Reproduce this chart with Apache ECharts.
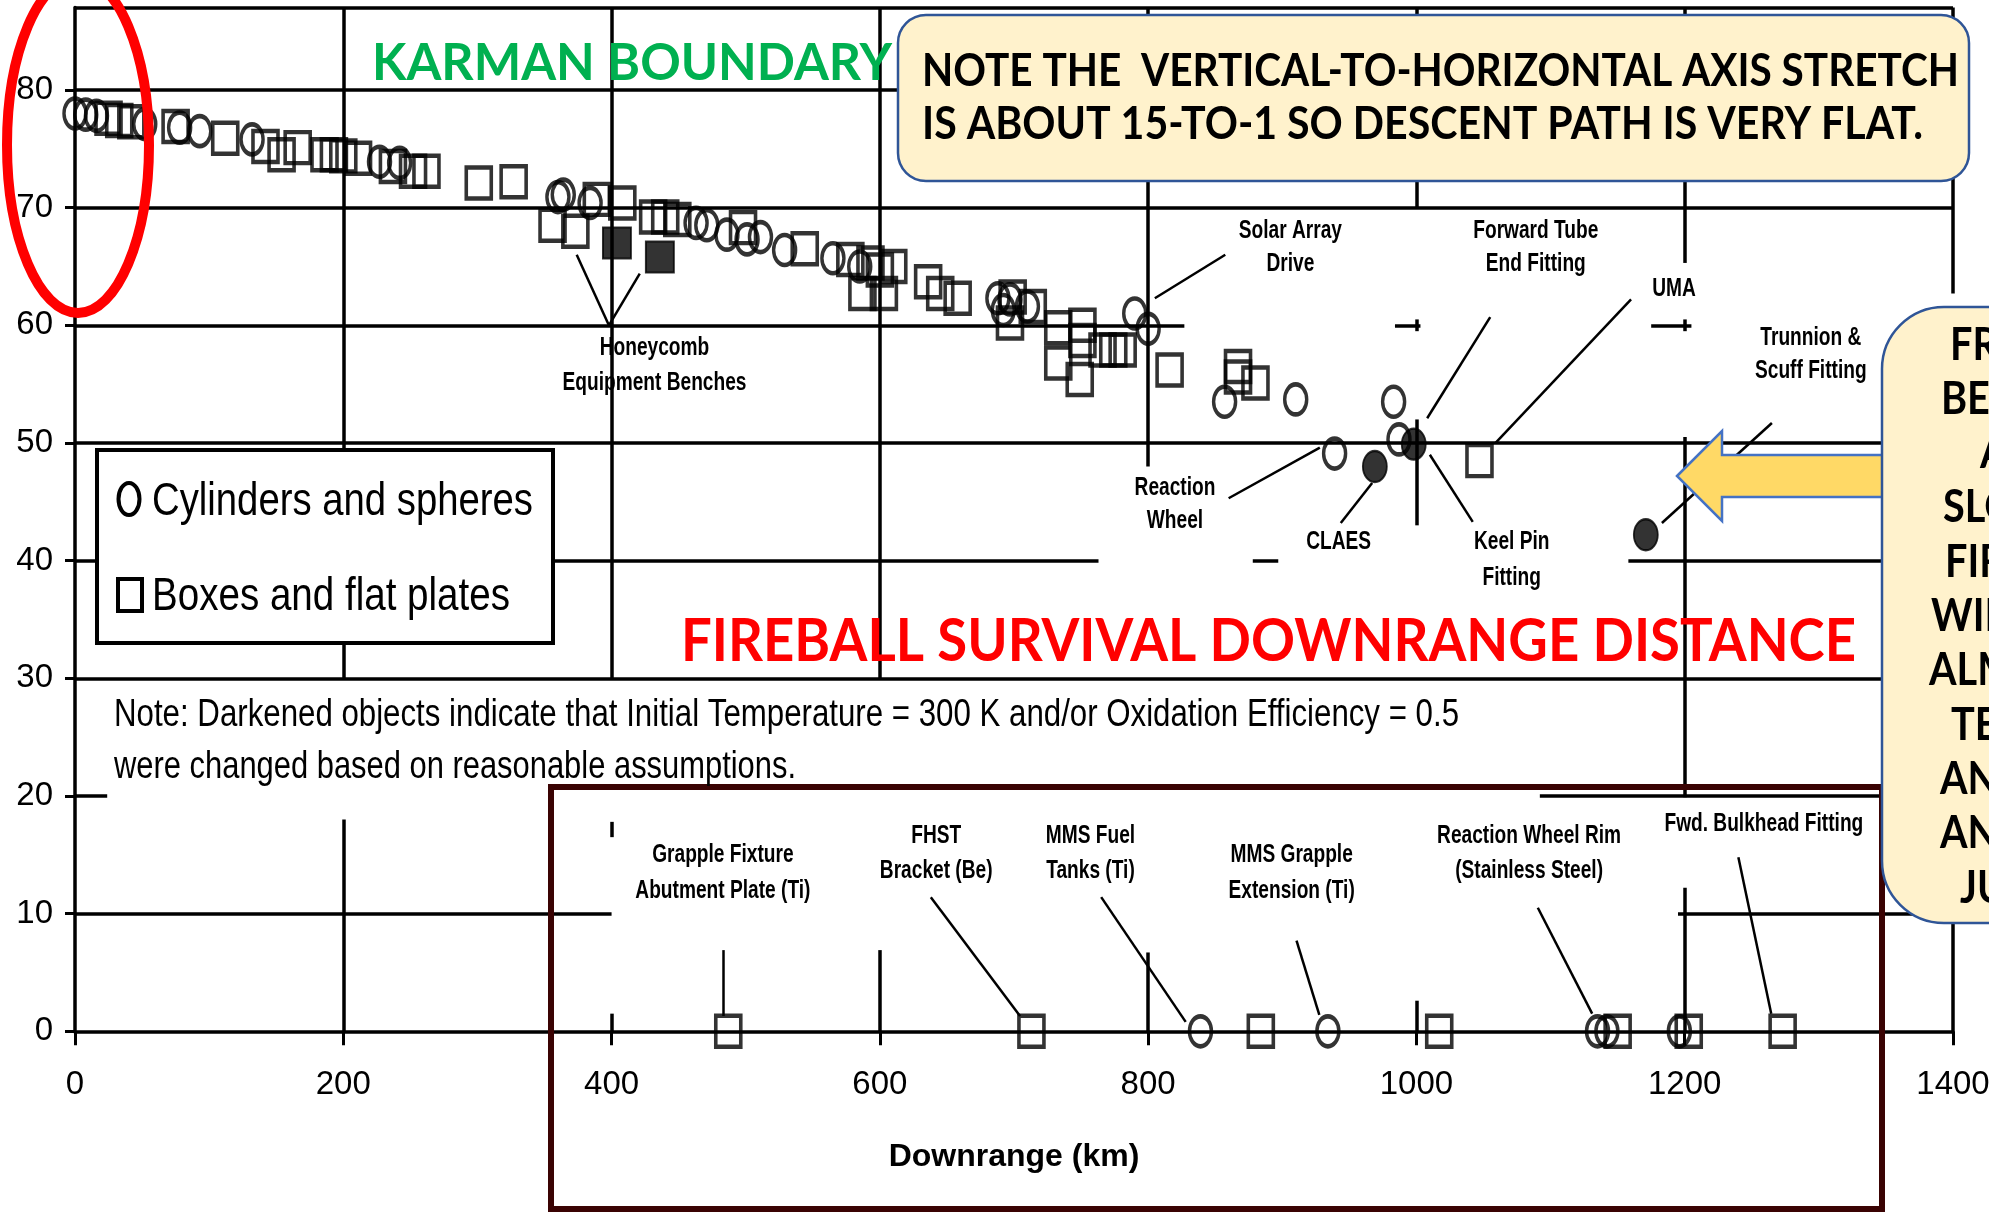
<!DOCTYPE html>
<html><head><meta charset="utf-8">
<script src="https://cdn.jsdelivr.net/npm/echarts@6/dist/echarts.min.js"></script>
<style>html,body{margin:0;padding:0;background:#fff}#c{width:1989px;height:1212px}</style>
</head><body><div id="c"></div>
<script>
// ---------------- DATA ----------------
const xTicks = [0, 200, 400, 600, 800, 1000, 1200, 1400];
const yTicks = [0, 10, 20, 30, 40, 50, 60, 70, 80];

// [downrange km, altitude km]
const cylinders = [[0,78.0],[8,77.9],[16,77.8],[52,77.1],[78,76.8],[93,76.5],[132,75.8],[227,73.9],[242,73.8],
  [360,70.9],[364,71.1],[384,70.4],[463,68.7],[471,68.5],[486,67.7],[501,67.3],[511,67.5],[529,66.4],[565,65.7],
  [585,65.0],[688,62.3],[692,61.3],[697,62.2],[710,61.6],[790,61.0],[800,59.7],[857,53.5],[910,53.7],[983,53.5],
  [987,50.3],[939,49.1],[839,0],[934,0],[1135,0],[1142,0],[1196,0]];
const boxes = [[25,77.6],[33,77.4],[42,77.3],[75,76.9],[112,75.9],[142,75.2],[154,74.5],[166,75.1],[186,74.5],
  [193,74.5],[200,74.4],[211,74.2],[237,73.5],[252,73.1],[262,73.1],[301,72.1],[327,72.2],[356,68.5],[373,68.0],
  [389,70.7],[408,70.4],[431,69.2],[440,69.2],[449,69.0],[498,68.3],[544,66.5],[578,65.6],[593,65.3],[600,64.7],
  [610,65.0],[587,62.7],[603,62.7],[636,63.7],[645,62.7],[658,62.3],[699,62.4],[714,61.6],[697,60.2],[733,59.8],
  [733,56.8],[751,60.0],[751,58.7],[749,55.4],[766,57.9],[774,57.9],[781,57.9],[816,56.2],[867,56.5],[867,55.6],
  [880,55.1],[1047,48.5],[487,0],[713,0],[884,0],[1017,0],[1150,0],[1203,0],[1273,0]];
const cylindersDark = [[969,48.0],[998,49.9],[1171,42.2]];
const boxesDark = [[404,67.0],[436,65.8]];

// remaining grid line pieces of the scanned figure: [value, from, to]
const hGridPieces = [[80,0,1400],[70,0,1400],[60,0,827],[60,984,1003],[60,1175,1205],[50,0,1400],
  [40,0,763],[40,878,897],[40,1158,1400],[30,0,1400],[20,0,24],[20,1092,1400],[10,0,400],[10,1195,1400],[87,0,1400]];
const vGridPieces = [[200,30,87],[200,0,18],[400,30,87],[400,16.5,17.8],[400,0,1.5],[600,30,87],[600,0,6.9],
  [800,48,87],[800,0,6.7],[1000,70,87],[1000,59.5,60.5],[1000,43,52],[1000,0,2.6],[1200,65.3,87],
  [1200,59.5,60.5],[1200,19.9,50.5],[1200,0,12.2],[1400,62.7,87],[1400,0,10]];

// callout leader lines [[x1,y1],[x2,y2]]
const leaders = [[[374,66.0],[398,60.0]],[[421,64.4],[398,60.0]],[[857.5,66.0],[805,62.3]],
  [[1055,60.7],[1008,52.1]],[[1160,62.2],[1059,50.0]],[[1265,51.7],[1183,43.2]],[[860,45.3],[928,49.6]],
  [[943.6,43.2],[967,46.6]],[[1042,43.3],[1010,49.0]],[[483,6.9],[483,1.3]],[[638,11.4],[704.5,1.3]],
  [[765,11.4],[828,0.8]],[[910.6,7.7],[927.6,1.4]],[[1090.5,10.5],[1131,1.5]],[[1240,14.8],[1264.5,1.5]]];

// callout label lines [text, x, y]
const calloutLabels = [['Honeycomb',432,58.1],['Equipment Benches',432,55.1],['Solar Array',906,68.0],['Drive',906,65.2],
  ['Forward Tube',1089,68.0],['End Fitting',1089,65.2],['UMA',1192,63.1],['Trunnion &',1294,58.9],['Scuff Fitting',1294,56.1],
  ['Reaction',820,46.2],['Wheel',820,43.4],['CLAES',942,41.6],['Keel Pin',1071,41.6],['Fitting',1071,38.5],
  ['Grapple Fixture',483,15.0],['Abutment Plate (Ti)',483,11.9],['FHST',642,16.6],['Bracket (Be)',642,13.6],
  ['MMS Fuel',757,16.6],['Tanks (Ti)',757,13.6],['MMS Grapple',907,15.0],['Extension (Ti)',907,11.9],
  ['Reaction Wheel Rim',1084,16.6],['(Stainless Steel)',1084,13.6],['Fwd. Bulkhead Fitting',1259,17.6]];

const legendTexts = ['Cylinders and spheres', 'Boxes and flat plates'];
const noteLines = ['Note: Darkened objects indicate that Initial Temperature = 300 K and/or Oxidation Efficiency = 0.5',
  'were changed based on reasonable assumptions.'];
const karmanText = 'KARMAN BOUNDARY';
const fireballText = 'FIREBALL SURVIVAL DOWNRANGE DISTANCE';
const topNote = ['NOTE THE  VERTICAL-TO-HORIZONTAL AXIS STRETCH', 'IS ABOUT 15-TO-1 SO DESCENT PATH IS VERY FLAT.'];
const sideNote = ['FR','BE','A','SLO','FIR','WIL','ALM','TE','AN','AN','JU'];

// ---------------- LAYOUT / STYLE ----------------
const sideNoteX = [1950,1941,1980,1943,1945,1931,1929,1951,1940,1940,1960];
const sideNoteY0 = 345, sideNoteDY = 54.3;

const cnv = document.createElement('canvas').getContext('2d');
const probe = 'abcdefghijklmnopqrstuvwxyz0123456789ABCDEF';
function hasFont(f){
  cnv.font = '40px monospace'; const a = cnv.measureText(probe).width;
  cnv.font = '40px "' + f + '", monospace'; const b = cnv.measureText(probe).width;
  return Math.abs(a - b) > 0.5;
}
const hasNarrow = hasFont('Liberation Sans Narrow');
const NARROW = hasNarrow ? '"Liberation Sans Narrow"' : '"Liberation Sans"';
const SANS = '"Liberation Sans", Arial, sans-serif';
const CAL = 'Lato, "Open Sans", sans-serif';
function measure(text, size, family, weight){
  cnv.font = (weight || 'normal') + ' ' + size + 'px ' + family;
  return cnv.measureText(text).width;
}
function txt(text, x, y, size, family, weight, color, scaleX, z, align){
  return {type:'text', x:x, y:y, scaleX:scaleX || 1, z:z || 60, silent:true,
    style:{text:text, x:0, y:0, fontSize:size, fontFamily:family, fontWeight:weight || 'normal', fill:color || '#000',
      align:align || 'left', textAlign:align || 'left', verticalAlign:'middle', textVerticalAlign:'middle'}};
}
function fit(text, x, y, size, family, weight, color, targetW, z){
  const s = targetW / measure(text, size, family, weight);
  return txt(text, x, y, size, family, weight, color, s, z);
}

const axisFontSize = hasNarrow ? 39 : 33;
const nameFontSize = hasNarrow ? 37 : 32;

const chart = echarts.init(document.getElementById('c'), null, {renderer:'canvas', width:1989, height:1212});

const gridLineData = hGridPieces.map(p => [{coord:[p[1], p[0]]}, {coord:[p[2], p[0]]}])
  .concat(vGridPieces.map(p => [{coord:[p[0], p[1]]}, {coord:[p[0], p[2]]}]));
const leaderData = leaders.map(l => [{coord:l[0]}, {coord:l[1]}]);

const openStyle = {color:'rgba(0,0,0,0)', borderColor:'#000', borderWidth:4};
const darkStyle = {color:'#000', borderColor:'#000', borderWidth:2};

chart.setOption({
  animation:false,
  backgroundColor:'#fff',
  grid:{left:75, right:36, top:7.6, bottom:180.7, containLabel:false, outerBoundsMode:'none'},
  xAxis:{type:'value', min:0, max:1400, interval:200,
    name:'Downrange (km)', nameLocation:'middle', nameGap:110,
    nameTextStyle:{fontFamily:NARROW, fontSize:nameFontSize, fontWeight:'bold', color:'#000'},
    axisLine:{show:true, lineStyle:{color:'#000', width:3.5}},
    axisTick:{show:true, length:14, lineStyle:{color:'#000', width:3}},
    axisLabel:{show:true, margin:37, fontFamily:NARROW, fontSize:axisFontSize, color:'#000', customValues:xTicks,
      formatter:function(v){ return String(v); }},
    splitLine:{show:false}},
  yAxis:{type:'value', min:0, max:87, interval:10,
    axisLine:{show:true, lineStyle:{color:'#000', width:3.5}},
    axisTick:{show:true, length:10, lineStyle:{color:'#000', width:3}, customValues:yTicks},
    axisLabel:{show:true, margin:22, fontFamily:NARROW, fontSize:axisFontSize, color:'#000', customValues:yTicks,
      formatter:function(v){ return String(v); }},
    splitLine:{show:false}},
  series:[
    {name:'Cylinders and spheres', type:'scatter', data:cylinders, symbol:'circle', symbolSize:[22,30],
      itemStyle:openStyle, silent:true, z:3,
      markLine:{silent:true, animation:false, symbol:['none','none'], label:{show:false},
        lineStyle:{color:'#000', width:2.5, type:'solid'}, emphasis:{disabled:true}, data:leaderData}},
    {name:'Boxes and flat plates', type:'scatter', data:boxes, symbol:'rect', symbolSize:[25,31],
      itemStyle:openStyle, silent:true, z:3,
      markLine:{silent:true, animation:false, symbol:['none','none'], label:{show:false},
        lineStyle:{color:'#000', width:3.5, type:'solid'}, emphasis:{disabled:true}, data:gridLineData}},
    {name:'Cylinders and spheres (darkened)', type:'scatter', data:cylindersDark, symbol:'circle', symbolSize:[24,31],
      itemStyle:darkStyle, silent:true, z:3},
    {name:'Boxes and flat plates (darkened)', type:'scatter', data:boxesDark, symbol:'rect', symbolSize:[28,31],
      itemStyle:darkStyle, silent:true, z:3}
  ]
});

// ---------------- OVERLAYS ----------------
const g = [];
// callout labels, placed through the chart's own scales
const labFont = 25;
const labScale = 184 / measure('Reaction Wheel Rim', labFont, SANS, 'bold');
calloutLabels.forEach(l => {
  const p = chart.convertToPixel({gridIndex:0}, [l[1], l[2]]);
  g.push(txt(l[0], p[0], p[1], labFont, SANS, 'bold', '#000', labScale, 40, 'center'));
});

// legend box
g.push({type:'rect', z:50, silent:true, shape:{x:97, y:450, width:456, height:193},
  style:{fill:'#fff', stroke:'#000', lineWidth:4}});
g.push({type:'ellipse', z:51, silent:true, shape:{cx:129, cy:499, rx:10.5, ry:16}, style:{fill:'none', stroke:'#000', lineWidth:4}});
g.push({type:'rect', z:51, silent:true, shape:{x:118, y:579, width:24, height:32}, style:{fill:'none', stroke:'#000', lineWidth:4}});
g.push(fit(legendTexts[0], 152, 502, 46, SANS, 'normal', '#000', 381, 52));
g.push(fit(legendTexts[1], 152, 597, 46, SANS, 'normal', '#000', 358, 52));

// note text
g.push(fit(noteLines[0], 114, 716, 38, SANS, 'normal', '#000', 1345, 52));
g.push(fit(noteLines[1], 114, 768, 38, SANS, 'normal', '#000', 682, 52));

// bottom framed box
g.push({type:'rect', z:45, silent:true, shape:{x:551, y:787, width:1331, height:422},
  style:{fill:'none', stroke:'#3a0303', lineWidth:6}});

// big coloured titles
g.push(fit(karmanText, 372, 64, 51, CAL, 'bold', '#00b050', 520, 70));
g.push(fit(fireballText, 681, 642, 60, CAL, 'bold', '#ff0000', 1175, 70));

// top note box
g.push({type:'rect', z:80, silent:true, shape:{x:898, y:15, width:1071, height:166, r:28},
  style:{fill:'#fff2cc', stroke:'#2f5597', lineWidth:2.5}});
g.push(fit(topNote[0], 922, 71, 46, CAL, 'bold', '#000', 1037, 81));
g.push(fit(topNote[1], 922, 124, 46, CAL, 'bold', '#000', 1001, 81));
const noteScale = 1037 / measure(topNote[0], 46, CAL, 'bold');

// arrow
g.push({type:'polygon', z:80, silent:true,
  shape:{points:[[1677,476],[1722,431],[1722,455],[1885,455],[1885,497],[1722,497],[1722,521]]},
  style:{fill:'#ffd966', stroke:'#4472c4', lineWidth:2.5}});

// right note box (cut by the picture edge)
g.push({type:'rect', z:82, silent:true, shape:{x:1882, y:307, width:220, height:616, r:62},
  style:{fill:'#fff2cc', stroke:'#2f5597', lineWidth:2.5}});
sideNote.forEach((t, i) => {
  g.push(txt(t, sideNoteX[i], sideNoteY0 + i * sideNoteDY, 45, CAL, 'bold', '#000', noteScale, 83));
});

// red ellipse
g.push({type:'ellipse', z:90, silent:true, shape:{cx:78, cy:145, rx:71, ry:168},
  style:{fill:'none', stroke:'#ff0000', lineWidth:10}});

chart.setOption({graphic:{elements:g}});
</script>
</body></html>
